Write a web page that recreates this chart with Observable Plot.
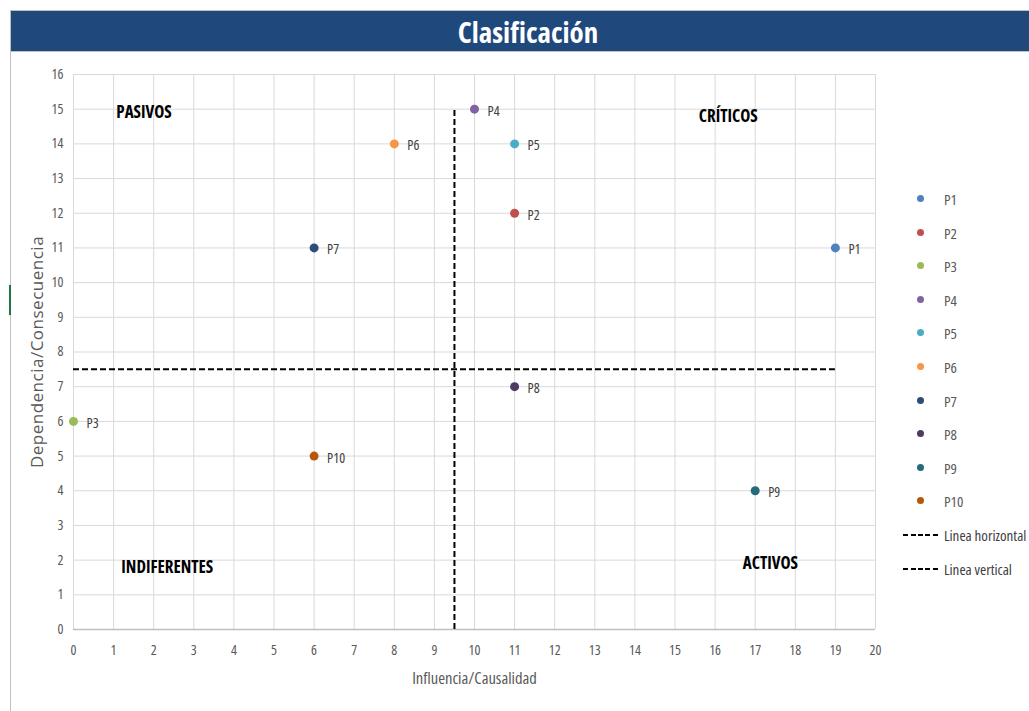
<!DOCTYPE html>
<html>
<head>
<meta charset="utf-8">
<script src="https://cdn.jsdelivr.net/npm/d3@7"></script>
<script src="https://cdn.jsdelivr.net/npm/@observablehq/plot@0.6"></script>
<style>
  html, body { margin: 0; padding: 0; background: #fff; width: 1029px; height: 711px; overflow: hidden; position: relative; font-family: "Open Sans", sans-serif; font-stretch: condensed; }
  #frame { position: absolute; left: 10px; top: 10px; width: 1019px; height: 701px; border-left: 1px solid #bfbfbf; }
  #title { position: absolute; left: 11px; top: 10px; width: 1018px; height: 42px; background: #1f497d; color: #fff; font-weight: bold; font-size: 29px; font-stretch: condensed; text-align: center; line-height: 42px; border-top: 1px solid #c0c0c0; border-bottom: 1px solid #c0c0c0; box-sizing: border-box; }
  #title span { position: relative; left: 8px; }
  #chart { position: absolute; left: 10px; top: 52px; }
  #chart svg text { font-stretch: condensed; }
  #legend { position: absolute; left: 900px; top: 189px; font-size: 15px; color: #595959; font-stretch: condensed; }
  .item { position: absolute; white-space: nowrap; height: 20px; line-height: 20px; }
  .dot { position: absolute; width: 7px; height: 7px; border-radius: 50%; top: 6px; }
  .dash { position: absolute; width: 36px; height: 2px; top: 9px; background: repeating-linear-gradient(to right, #000 0 5px, transparent 5px 7.5px); }
  #mark { position: absolute; left: 9px; top: 285px; width: 2px; height: 30px; background: #217346; }
</style>
</head>
<body>
<div id="frame"></div>
<div id="mark"></div>
<div id="title"><span>Clasificación</span></div>
<div id="chart"></div>
<div id="legend"></div>
<script>
const labels = ["P1","P2","P3","P4","P5","P6","P7","P8","P9","P10"];
const influencia = [19, 11, 0, 10, 11, 8, 6, 11, 17, 6];
const dependencia = [11, 12, 6, 15, 14, 14, 11, 7, 4, 5];
const colors = ["#4f81bd","#c0504d","#9bbb59","#8064a2","#4bacc6","#f79646","#2c4d75","#4d3b62","#276a7c","#b65708"];
const xTicks = d3.range(0, 21);
const yTicks = d3.range(0, 17);
const quadrantNames = ["PASIVOS","CRÍTICOS","INDIFERENTES","ACTIVOS"];
const quadrantX = [1.76, 16.33, 2.34, 17.38];
const quadrantY = [14.9, 14.78, 1.79, 1.9];
const hLine = [{x1: 0, x2: 19, y: 7.5}];
const vLine = [{x: 9.5, y1: 0, y2: 15}];
const lineNames = ["Linea horizontal", "Linea vertical"];

const pts = labels.map((l, i) => ({label: l, x: influencia[i], y: dependencia[i]}));
const quads = quadrantNames.map((n, i) => ({name: n, x: quadrantX[i], y: quadrantY[i]}));

const chart = Plot.plot({
  width: 880,
  height: 659,
  marginLeft: 63,
  marginRight: 15,
  marginTop: 22,
  marginBottom: 82,
  style: {fontFamily: '"Open Sans", sans-serif', fontSize: "13px", color: "#595959", background: "transparent"},
  x: {domain: [0, 20], ticks: xTicks, label: null},
  y: {domain: [0, 16], ticks: yTicks, label: null},
  color: {domain: labels, range: colors},
  marks: [
    Plot.gridX(xTicks, {stroke: "#d9d9d9", strokeOpacity: 1}),
    Plot.gridY(yTicks, {stroke: "#d9d9d9", strokeOpacity: 1}),
    Plot.ruleY([0], {stroke: "#bfbfbf", strokeWidth: 1.5}),
    Plot.axisX(xTicks, {tickSize: 0, tickPadding: 16, fontSize: 14, fill: "#595959"}),
    Plot.axisY(yTicks, {tickSize: 0, tickPadding: 10, fontSize: 14, fill: "#595959"}),
    Plot.axisX({ticks: [], label: "Influencia/Causalidad", labelAnchor: "center", labelArrow: "none", labelOffset: 54, fontSize: 16.5, fill: "#595959", tickSize: 0}),
    Plot.axisY({ticks: [], label: "Dependencia/Consecuencia", labelAnchor: "center", labelArrow: "none", labelOffset: 43, fontSize: 17, fill: "#595959", tickSize: 0}),
    Plot.ruleY(hLine, {y: "y", x1: "x1", x2: "x2", stroke: "#000", strokeWidth: 2, strokeDasharray: "6,3"}),
    Plot.ruleX(vLine, {x: "x", y1: "y1", y2: "y2", stroke: "#000", strokeWidth: 2, strokeDasharray: "6,3"}),
    Plot.dot(pts, {x: "x", y: "y", fill: "label", r: 4.5, stroke: "none"}),
    Plot.text(pts, {x: "x", y: "y", text: "label", dx: 13, dy: 2, textAnchor: "start", fontSize: 14, fill: "#404040"}),
    Plot.text(quads, {x: "x", y: "y", text: "name", fontWeight: "bold", fontSize: 17, fill: "#000"})
  ]
});
document.getElementById("chart").appendChild(chart);
// rotated axis title is not horizontally compressed in the reference
d3.select(chart).selectAll("text").filter(function() { return this.textContent === "Dependencia/Consecuencia"; })
  .style("font-stretch", "normal").style("letter-spacing", "0.5px");

const legend = document.getElementById("legend");
labels.forEach((l, i) => {
  const it = document.createElement("div");
  it.className = "item";
  it.style.top = (i * 33.6) + "px";
  it.style.left = "0px";
  it.innerHTML = `<div class="dot" style="left:17px;background:${colors[i]}"></div><span style="position:absolute;left:44px">${l}</span>`;
  legend.appendChild(it);
});
lineNames.forEach((n, j) => {
  const it = document.createElement("div");
  it.className = "item";
  it.style.top = (10 * 33.6 + j * 33.6) + "px";
  it.style.left = "0px";
  it.innerHTML = `<div class="dash" style="left:3px"></div><span style="position:absolute;left:44px;color:#404040">${n}</span>`;
  legend.appendChild(it);
});
</script>
</body>
</html>
